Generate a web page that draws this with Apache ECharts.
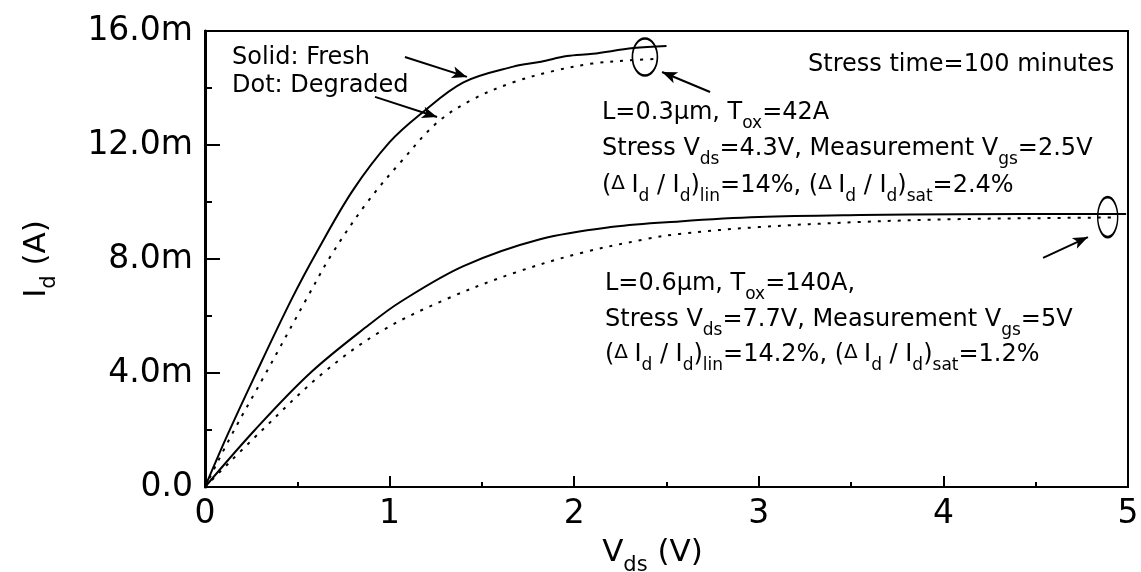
<!DOCTYPE html>
<html>
<head>
<meta charset="utf-8">
<script src="https://cdn.jsdelivr.net/npm/echarts@6/dist/echarts.min.js"></script>
<style>
  html, body { margin: 0; padding: 0; background: #fff; }
  #chart { width: 1141px; height: 572px; }
</style>
</head>
<body>
<div id="chart"></div>
<script>
// Drain current Id (mA) versus drain voltage Vds (V), fresh and hot-carrier degraded devices.

// L = 0.3 um, Tox = 42 A — fresh device
const vdsShortFresh = [0, 0.12, 0.27, 0.47, 0.61, 0.80, 1.00, 1.17, 1.40, 1.67, 1.82, 1.96, 2.10, 2.32, 2.50];
const idShortFresh  = [0, 1.8, 3.9, 6.6, 8.3, 10.4, 12.1, 13.1, 14.2, 14.75, 14.92, 15.12, 15.2, 15.4, 15.47];

// L = 0.3 um — after stress
const vdsShortDeg = [0, 0.15, 0.33, 0.55, 0.69, 0.88, 1.06, 1.26, 1.45, 1.67, 1.89, 2.10, 2.32, 2.45];
const idShortDeg  = [0, 1.9, 4.0, 6.6, 8.2, 10.0, 11.4, 12.8, 13.6, 14.2, 14.6, 14.86, 14.98, 15.02];

// L = 0.6 um, Tox = 140 A — fresh device
const vdsLongFresh = [0, 0.27, 0.57, 0.89, 1.06, 1.40, 1.82, 2.21, 2.57, 3.00, 3.55, 4.09, 4.99];
const idLongFresh  = [0, 2.0, 4.0, 5.7, 6.5, 7.75, 8.7, 9.13, 9.32, 9.47, 9.54, 9.57, 9.58];

// L = 0.6 um — after stress
const vdsLongDeg = [0, 0.31, 0.64, 0.95, 1.31, 1.67, 2.03, 2.39, 2.57, 3.00, 3.55, 4.09, 4.63, 4.92];
const idLongDeg  = [0, 2.0, 4.0, 5.45, 6.6, 7.5, 8.2, 8.7, 8.88, 9.12, 9.3, 9.4, 9.44, 9.46];

// Saturation regions that are circled
const circleShort = [2.383, 15.09];
const circleLong  = [4.89, 9.47];

// Pointer arrows: [from, to] in (Vds, Id) units
const arrows = [
  [[1.083, 15.09], [1.419, 14.39]],
  [[0.921, 13.69], [1.257, 12.98]],
  [[2.736, 13.86], [2.476, 14.56]],
  [[4.54, 8.04],  [4.783, 8.77]]
];

// Axis ranges and ticks
const xMin = 0, xMax = 5, xStep = 1;
const yMin = 0, yMax = 16, yStep = 4;

const FONT = 'DejaVu Sans';
const pairs = (xs, ys) => xs.map((x, i) => [x, ys[i]]);

const rich = {
  n: { fontFamily: FONT, fontSize: 24, lineHeight: 26, verticalAlign: 'top', color: '#000' },
  s: { fontFamily: FONT, fontSize: 17, lineHeight: 17, padding: [14, 0, 0, 0], verticalAlign: 'top', color: '#000' },
  d: { fontFamily: FONT, fontSize: 20, lineHeight: 26, verticalAlign: 'top', color: '#000' }
};

function note(x, y, text) {
  return { type: 'text', x: x, y: y, silent: true, style: { text: text, rich: rich, fill: '#000' } };
}

const solid = { color: '#000', width: 2, type: 'solid' };
const dotted = { color: '#000', width: 2, type: [3, 7] };

function curve(name, xs, ys, ls) {
  return {
    name: name, type: 'line', data: pairs(xs, ys), showSymbol: false, symbol: 'none',
    smooth: 0.35, lineStyle: ls, silent: true, animation: false
  };
}

const axisNameRich = {
  n: { fontFamily: FONT, fontSize: 31, lineHeight: 32, verticalAlign: 'top', color: '#000' },
  s: { fontFamily: FONT, fontSize: 21, lineHeight: 21, padding: [18, 0, 0, 0], verticalAlign: 'top', color: '#000' }
};

const chart = echarts.init(document.getElementById('chart'), null, { renderer: 'canvas' });

chart.setOption({
  backgroundColor: '#fff',
  animation: false,
  grid: {
    left: 205, right: 13, top: 31, bottom: 85,
    containLabel: false, outerBoundsMode: 'none',
    show: true, borderColor: '#000', borderWidth: 2, backgroundColor: 'transparent'
  },
  xAxis: {
    type: 'value', min: xMin, max: xMax, interval: xStep,
    name: '{n|V}{s|ds}{n| (V)}',
    nameLocation: 'middle', nameGap: 50,
    nameTextStyle: { rich: axisNameRich, padding: [0, 28, 0, 0] },
    axisLine: { show: true, onZero: false, lineStyle: { color: '#000', width: 2 } },
    axisTick: { show: true, inside: true, length: 11, lineStyle: { color: '#000', width: 2 } },
    minorTick: { show: true, splitNumber: 2, length: 5, lineStyle: { color: '#000', width: 2 } },
    axisLabel: { fontFamily: FONT, fontSize: 33, color: '#000', margin: 11 },
    splitLine: { show: false }
  },
  yAxis: {
    type: 'value', min: yMin, max: yMax, interval: yStep,
    name: '{n|I}{s|d}{n| (A)}',
    nameLocation: 'middle', nameGap: 152, nameRotate: 90,
    nameTextStyle: { rich: axisNameRich },
    axisLine: { show: true, onZero: false, lineStyle: { color: '#000', width: 3 } },
    axisTick: { show: true, inside: true, length: 15, lineStyle: { color: '#000', width: 2 } },
    minorTick: { show: true, splitNumber: 2, length: 7, lineStyle: { color: '#000', width: 2 } },
    axisLabel: {
      fontFamily: FONT, fontSize: 33, color: '#000', margin: 12,
      formatter: v => (v === 0 ? '0.0' : v.toFixed(1) + 'm')
    },
    splitLine: { show: false }
  },
  series: [
    curve('L=0.3 fresh', vdsShortFresh, idShortFresh, solid),
    curve('L=0.3 degraded', vdsShortDeg, idShortDeg, dotted),
    curve('L=0.6 fresh', vdsLongFresh, idLongFresh, solid),
    curve('L=0.6 degraded', vdsLongDeg, idLongDeg, dotted),
    {
      name: 'circles', type: 'scatter', silent: true, animation: false,
      symbol: 'circle',
      data: [
        { value: circleShort, symbolSize: [25, 37] },
        { value: circleLong, symbolSize: [20, 40] }
      ],
      itemStyle: { color: 'rgba(0,0,0,0)', borderColor: '#000', borderWidth: 2, opacity: 1 },
      markLine: {
        silent: true, animation: false,
        symbol: ['none', 'arrow'], symbolSize: [9, 15],
        label: { show: false },
        lineStyle: { color: '#000', width: 2, type: 'solid', opacity: 1 },
        data: arrows.map(a => [{ coord: a[0] }, { coord: a[1] }])
      }
    }
  ],
  graphic: [
    note(232, 46, '{n|Solid: Fresh}'),
    note(232, 74, '{n|Dot: Degraded}'),
    note(808, 53, '{n|Stress time=100 minutes}'),
    note(602, 101, '{n|L=0.3μm, T}{s|ox}{n|=42A}'),
    note(602, 137, '{n|Stress V}{s|ds}{n|=4.3V, Measurement V}{s|gs}{n|=2.5V}'),
    note(602, 174, '{n|(}{d|Δ }{n|I}{s|d}{n| / I}{s|d}{n|)}{s|lin}{n|=14%, (}{d|Δ }{n|I}{s|d}{n| / I}{s|d}{n|)}{s|sat}{n|=2.4%}'),
    note(605, 272, '{n|L=0.6μm, T}{s|ox}{n|=140A,}'),
    note(605, 308, '{n|Stress V}{s|ds}{n|=7.7V, Measurement V}{s|gs}{n|=5V}'),
    note(605, 343, '{n|(}{d|Δ }{n|I}{s|d}{n| / I}{s|d}{n|)}{s|lin}{n|=14.2%, (}{d|Δ }{n|I}{s|d}{n| / I}{s|d}{n|)}{s|sat}{n|=1.2%}')
  ]
});
</script>
</body>
</html>
